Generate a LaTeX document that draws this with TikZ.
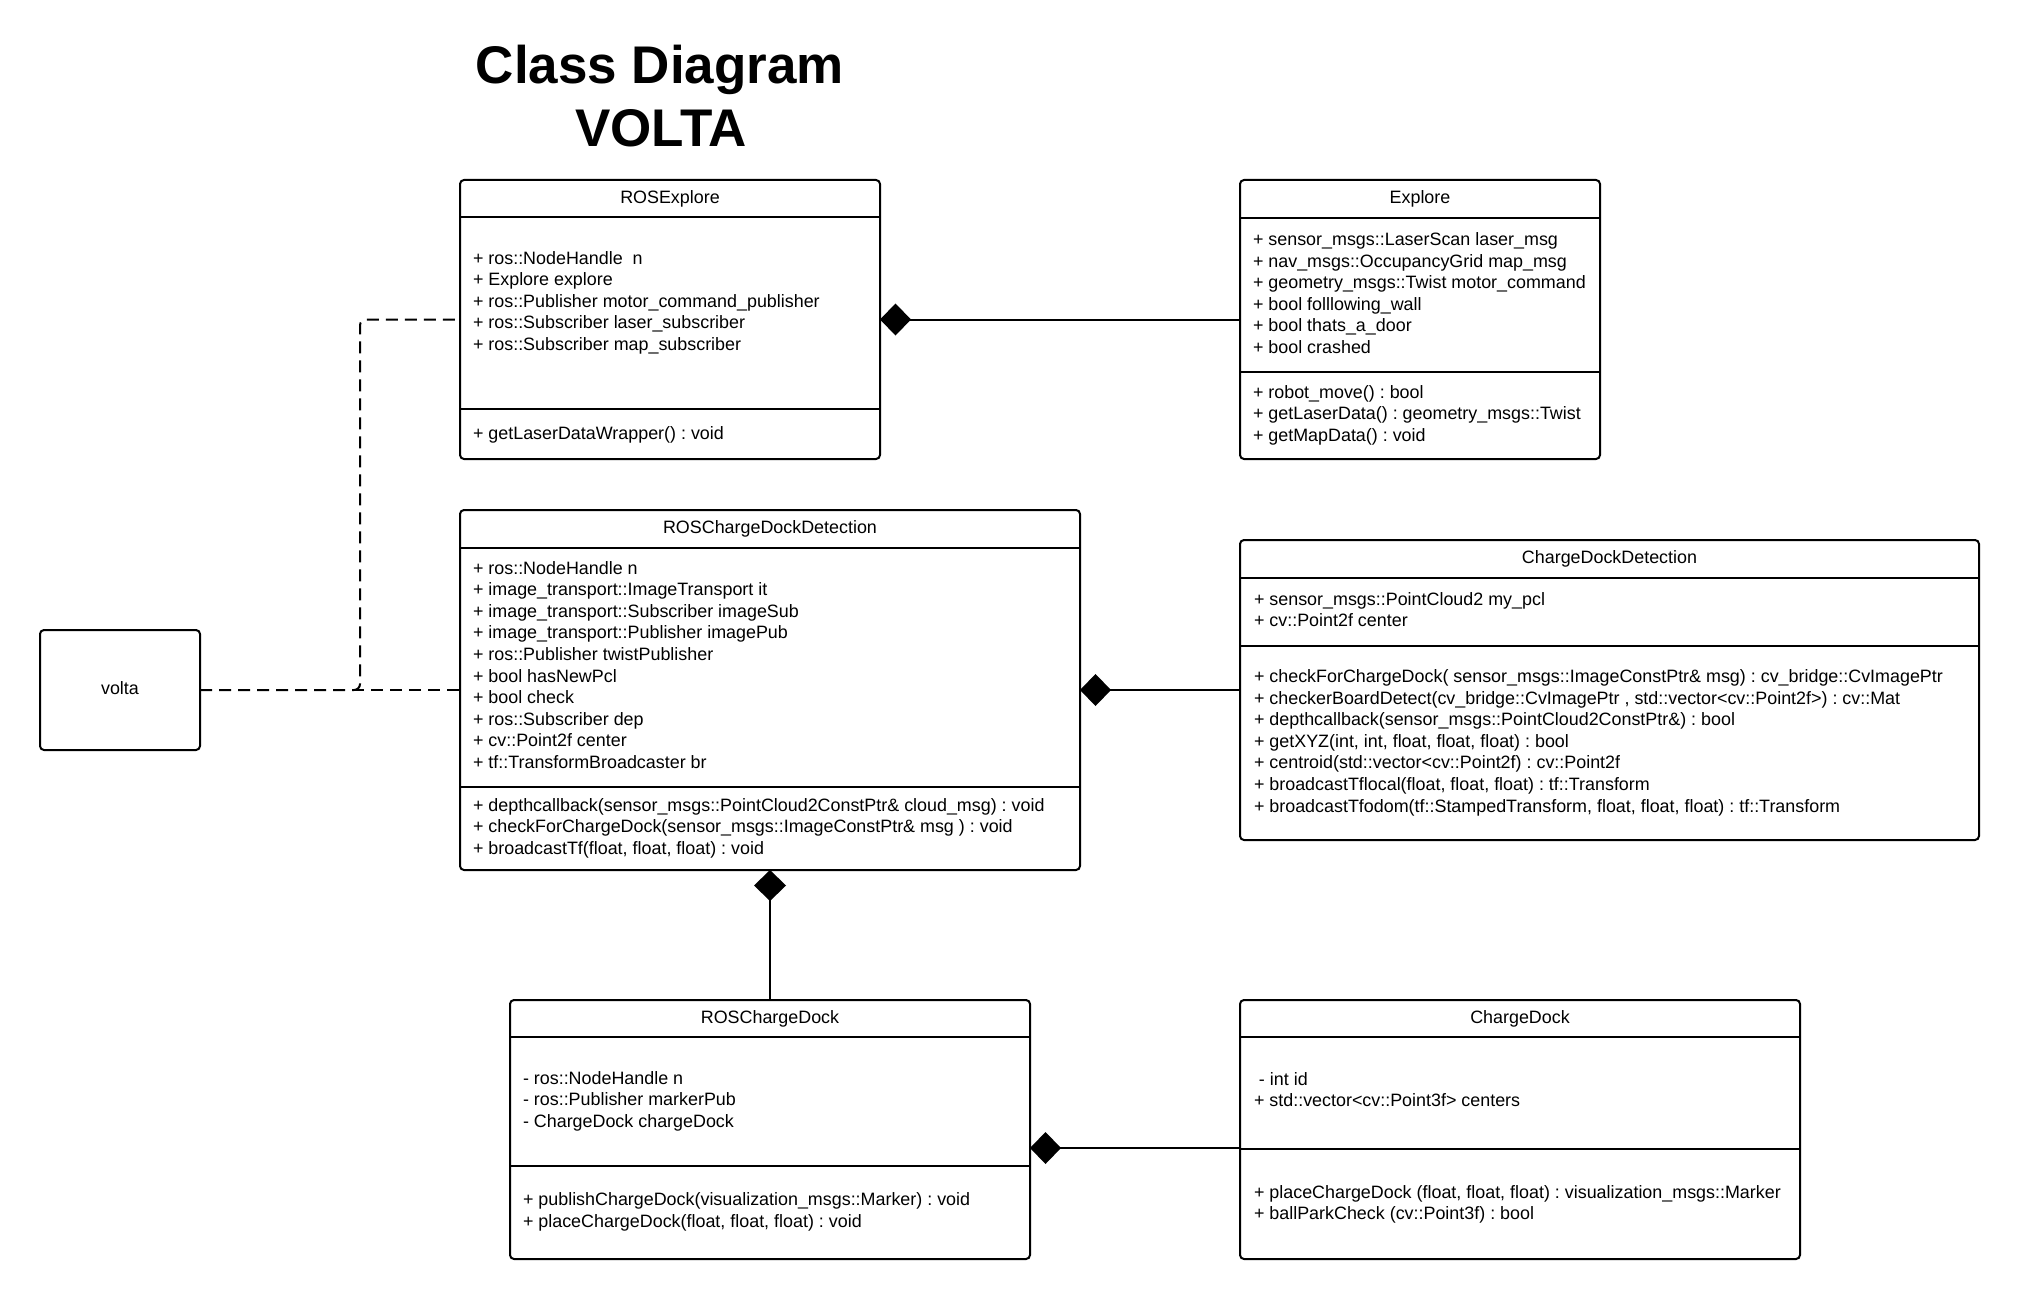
\documentclass[tikz,border=0pt]{standalone}
\usepackage{fontspec}
\setmainfont{Liberation Sans}
\usetikzlibrary{arrows.meta}
\frenchspacing

% one member line per node, stacked 21.6pt apart from the first baseline
\newcommand\classlines[4]{%
  \foreach \s [count=\k] in {#4}{\node[member] (#1\k) at (#2,{#3+(\k-1)*21.6}) {\s};}}

\begin{document}
\begin{tikzpicture}[x=1pt,y=-1pt,line width=2pt,
  classbox/.style={draw, rounded corners=4pt, anchor=north west, inner sep=0pt, outer sep=0pt},
  member/.style={anchor=base west, inner sep=0pt, font=\fontsize{17.9pt}{21.6pt}\selectfont},
  classname/.style={anchor=base, inner sep=0pt, font=\fontsize{17.9pt}{21.6pt}\selectfont},
  headline/.style={anchor=base, inner sep=0pt, font=\fontsize{53pt}{63pt}\selectfont\bfseries},
  comp/.style={-{Diamond[length=31pt,width=32pt]}},
  dep/.style={dash pattern=on 12pt off 7pt}]

\fill[white] (0,0) rectangle (2020,1300);
\useasboundingbox (0,0) rectangle (2020,1300);

% title
\node[headline] (title1) at (660,83.5) {Class Diagram};
\node[headline] (title2) at (661,146.5) {VOLTA};

% ROSExplore
\node[classbox, minimum width=420pt, minimum height=279pt] (rosx) at (460,180) {};
\node[classname] (rosx-name) at (670,203.5) {ROSExplore};
\draw (rosx.west |- 0,217) -- (rosx.east |- 0,217);
\draw (rosx.west |- 0,409) -- (rosx.east |- 0,409);
\classlines{rosx-a}{472}{264}{{+ ros::NodeHandle\ \ n},{+ Explore explore},{+ ros::Publisher motor\_command\_publisher},{+ ros::Subscriber laser\_subscriber},{+ ros::Subscriber map\_subscriber}}
\classlines{rosx-m}{472}{439.5}{{+ getLaserDataWrapper() : void}}

% Explore
\node[classbox, minimum width=360pt, minimum height=279pt] (expl) at (1240,180) {};
\node[classname] (expl-name) at (1420,203.5) {Explore};
\draw (expl.west |- 0,218) -- (expl.east |- 0,218);
\draw (expl.west |- 0,372) -- (expl.east |- 0,372);
\classlines{expl-a}{1252}{245.5}{{+ sensor\_msgs::LaserScan laser\_msg},{+ nav\_msgs::OccupancyGrid map\_msg},{+ geometry\_msgs::Twist motor\_command},{+ bool folllowing\_wall},{+ bool thats\_a\_door},{+ bool crashed}}
\classlines{expl-m}{1252}{398}{{+ robot\_move() : bool},{+ getLaserData() : geometry\_msgs::Twist},{+ getMapData() : void}}

% ROSChargeDockDetection
\node[classbox, minimum width=620pt, minimum height=360pt] (rcdd) at (460,510) {};
\node[classname] (rcdd-name) at (770,533) {ROSChargeDockDetection};
\draw (rcdd.west |- 0,548) -- (rcdd.east |- 0,548);
\draw (rcdd.west |- 0,787) -- (rcdd.east |- 0,787);
\classlines{rcdd-a}{472}{574}{{+ ros::NodeHandle n},{+ image\_transport::ImageTransport it},{+ image\_transport::Subscriber imageSub},{+ image\_transport::Publisher imagePub},{+ ros::Publisher twistPublisher},{+ bool hasNewPcl},{+ bool check},{+ ros::Subscriber dep},{+ cv::Point2f center},{+ tf::TransformBroadcaster br}}
\classlines{rcdd-m}{472}{811}{{+ depthcallback(sensor\_msgs::PointCloud2ConstPtr\& cloud\_msg) : void},{+ checkForChargeDock(sensor\_msgs::ImageConstPtr\& msg ) : void},{+ broadcastTf(float, float, float) : void}}

% ChargeDockDetection
\node[classbox, minimum width=739pt, minimum height=300pt] (cdd) at (1240,540) {};
\node[classname] (cdd-name) at (1609.5,563) {ChargeDockDetection};
\draw (cdd.west |- 0,578) -- (cdd.east |- 0,578);
\draw (cdd.west |- 0,646) -- (cdd.east |- 0,646);
\classlines{cdd-a}{1253}{605}{{+ sensor\_msgs::PointCloud2 my\_pcl},{+ cv::Point2f center}}
\classlines{cdd-m}{1253}{682.5}{{+ checkForChargeDock( sensor\_msgs::ImageConstPtr\& msg) : cv\_bridge::CvImagePtr},{+ checkerBoardDetect(cv\_bridge::CvImagePtr , std::vector<cv::Point2f>) : cv::Mat},{+ depthcallback(sensor\_msgs::PointCloud2ConstPtr\&) : bool},{+ getXYZ(int, int, float, float, float) : bool},{+ centroid(std::vector<cv::Point2f) : cv::Point2f},{+ broadcastTflocal(float, float, float) : tf::Transform},{+ broadcastTfodom(tf::StampedTransform, float, float, float) : tf::Transform}}

% ROSChargeDock
\node[classbox, minimum width=520pt, minimum height=259pt] (rcd) at (510,1000) {};
\node[classname] (rcd-name) at (770,1023) {ROSChargeDock};
\draw (rcd.west |- 0,1037) -- (rcd.east |- 0,1037);
\draw (rcd.west |- 0,1166) -- (rcd.east |- 0,1166);
\classlines{rcd-a}{522}{1084}{{- ros::NodeHandle n},{- ros::Publisher markerPub},{- ChargeDock chargeDock}}
\classlines{rcd-m}{522}{1205.5}{{+ publishChargeDock(visualization\_msgs::Marker) : void},{+ placeChargeDock(float, float, float) : void}}

% ChargeDock
\node[classbox, minimum width=560pt, minimum height=259pt] (cd) at (1240,1000) {};
\node[classname] (cd-name) at (1520,1023) {ChargeDock};
\draw (cd.west |- 0,1037) -- (cd.east |- 0,1037);
\draw (cd.west |- 0,1149) -- (cd.east |- 0,1149);
\classlines{cd-a}{1253}{1085}{{\ - int id},{+ std::vector<cv::Point3f> centers}}
\classlines{cd-m}{1253}{1198}{{+ placeChargeDock (float, float, float) : visualization\_msgs::Marker},{+ ballParkCheck (cv::Point3f) : bool}}

% volta
\node[classbox, minimum width=160pt, minimum height=120pt] (volta) at (40,630) {};
\node[classname] (volta-name) at (120,694.5) {volta};

% compositions
\draw[comp] (expl.west) -- (rosx.east);
\draw[comp] (cdd.west) -- (rcdd.east);
\draw[comp] (rcd.north) -- (rcdd.south);
\draw[comp] ([yshift=-18.5pt]cd.west) -- ([yshift=-18.5pt]rcd.east);

% dependencies
\draw[dep] (volta.east) -- (rcdd.west);
\draw[dep, rounded corners=6pt] (volta.east) -- ++(160,0) |- (rosx.west);

\end{tikzpicture}
\end{document}
